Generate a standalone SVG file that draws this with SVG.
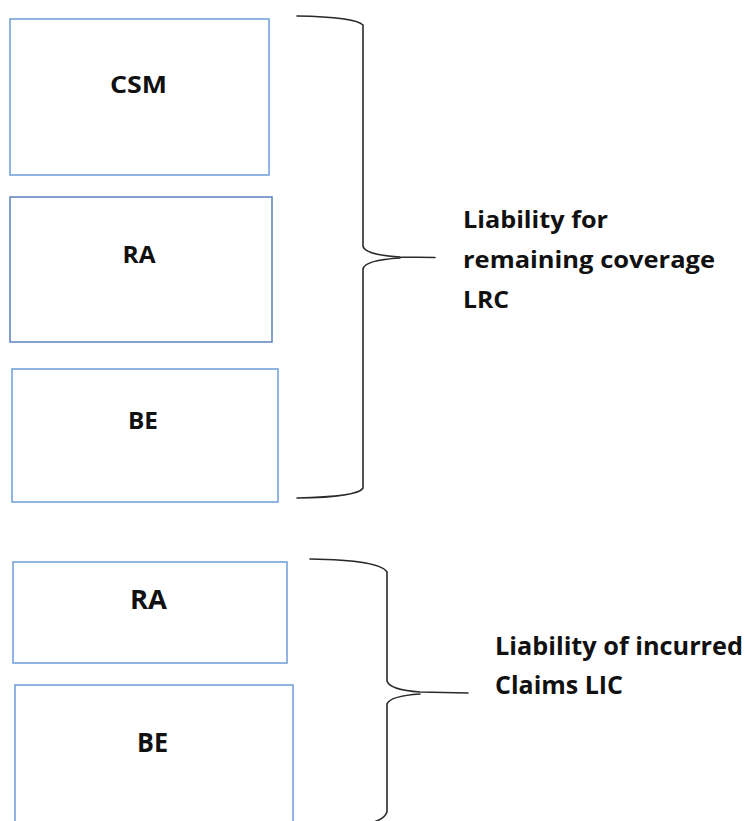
<svg xmlns="http://www.w3.org/2000/svg" width="745" height="821" viewBox="0 0 745 821">
<style>
.box{fill:#ffffff;stroke:#6b9dd6;stroke-width:1.5}
.box2{fill:#ffffff;stroke:#5a80bf;stroke-width:1.5}
.lbl{font-family:"Open Sans","Liberation Sans",sans-serif;font-weight:700;fill:#111;text-anchor:middle}
.side{font-family:"Open Sans","Liberation Sans",sans-serif;font-weight:700;fill:#111}
.brace{fill:none;stroke:#2a2a2a;stroke-width:1.6;stroke-linecap:round}
</style>
<rect width="745" height="821" fill="#ffffff"/>
<g id="csm">
<rect class="box" x="10" y="19" width="259" height="156"/>
<text class="lbl" x="138.5" y="93" font-size="23" textLength="57" lengthAdjust="spacingAndGlyphs">CSM</text>
</g>
<g id="ra-lrc">
<rect class="box2" x="10" y="197" width="262" height="145"/>
<text class="lbl" x="139" y="263" font-size="23" textLength="33" lengthAdjust="spacingAndGlyphs">RA</text>
</g>
<g id="be-lrc">
<rect class="box" x="12" y="369" width="266" height="133"/>
<text class="lbl" x="143" y="429" font-size="23" textLength="30" lengthAdjust="spacingAndGlyphs">BE</text>
</g>
<g id="ra-lic">
<rect class="box" x="13" y="562" width="274" height="101"/>
<text class="lbl" x="148.5" y="609" font-size="26" textLength="37" lengthAdjust="spacingAndGlyphs">RA</text>
</g>
<g id="be-lic">
<rect class="box" x="15" y="685" width="278" height="150"/>
<text class="lbl" x="152.5" y="752" font-size="26" textLength="31" lengthAdjust="spacingAndGlyphs">BE</text>
</g>
<g id="connectors">
<path class="brace" d="M297,16 Q355,17 363,25 L363,246 Q365,255 400,257 L435,257.5 M400,258 Q365,260 363,269 L363,488 Q358,497 297,498"/>
<path class="brace" d="M310,559 Q380,560 387,572 L387,681 Q390,690 420,692 L468,693 M420,694 Q390,696 387,704 L387,812 Q384,820 370,823"/>
</g>
<g id="lrc-label">
<text class="side" x="463" y="228" font-size="24" textLength="145" lengthAdjust="spacingAndGlyphs">Liability for</text>
<text class="side" x="463" y="268" font-size="24" textLength="252" lengthAdjust="spacingAndGlyphs">remaining coverage</text>
<text class="side" x="463" y="308" font-size="24" textLength="46" lengthAdjust="spacingAndGlyphs">LRC</text>
</g>
<g id="lic-label">
<text class="side" x="495" y="655" font-size="25" textLength="248" lengthAdjust="spacingAndGlyphs">Liability of incurred</text>
<text class="side" x="495" y="694" font-size="25" textLength="128" lengthAdjust="spacingAndGlyphs">Claims LIC</text>
</g>
</svg>
